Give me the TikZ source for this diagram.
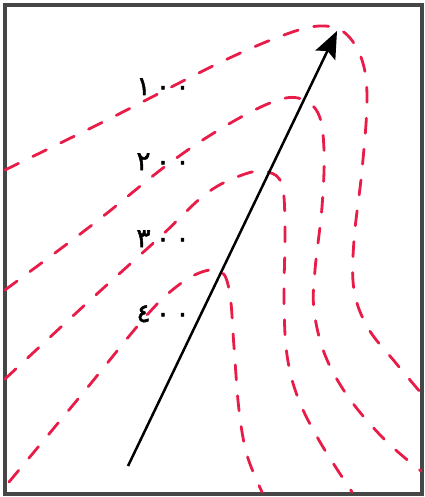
\documentclass[tikz,border=0pt]{standalone}
\usepackage{fontspec}
\usetikzlibrary{arrows.meta}
\newfontfamily\arabicfont[Script=Arabic,FakeBold=2]{DejaVu Sans}
\definecolor{contourred}{RGB}{232,28,72}
\definecolor{framegray}{RGB}{70,70,70}
\begin{document}
\begin{tikzpicture}[x=1pt,y=-1pt,
  contour/.style={draw=contourred, line width=2.8pt, dash pattern=on 15pt off 16pt, line cap=round},
  numlabel/.style={font=\arabicfont\fontsize{26}{30}\selectfont, anchor=base, inner sep=0pt, text=black},
  arrowline/.style={draw=black, line width=2.5pt, -{Stealth[length=27pt,width=22pt,inset=5pt]}}]
\useasboundingbox (0,0) rectangle (424,497);
\draw[framegray, line width=3.5pt] (5,5) rectangle (422,494);
% contour 100
\draw[contour] plot[smooth, tension=0.6] coordinates {(5,170) (107,120) (219,63) (284,35) (320,26) (345,33) (362,60) (367,100) (362,170) (354,240) (354,290) (368,328) (395,362) (421,393)};
% contour 200
\draw[contour] plot[smooth, tension=0.6] coordinates {(5,290) (92,225) (167,165) (222,128) (270,103) (298,98) (318,113) (324,150) (322,207) (315,270) (314,310) (325,355) (349,398) (385,440) (421,471)};
% contour 300
\draw[contour] plot[smooth, tension=0.6] coordinates {(5,379) (87,303) (160,237) (207,193) (245,174) (268,172) (282,185) (285,230) (284,300) (287,355) (298,398) (320,442) (352,492)};
% contour 400
\draw[contour] plot[smooth, tension=0.6] coordinates {(9,482) (83,393) (147,315) (180,284) (205,271) (222,272) (230,295) (234,347) (239,410) (247,455) (262,492)};
% labels
\node[numlabel] (l100) at (163,95) {١\hspace{5.5pt}٠\hspace{5.5pt}٠};
\node[numlabel] (l200) at (163,170) {٢\hspace{5.5pt}٠\hspace{5.5pt}٠};
\node[numlabel] (l300) at (163,247) {٣\hspace{5.5pt}٠\hspace{5.5pt}٠};
\node[numlabel] (l400) at (163,322) {٤\hspace{5.5pt}٠\hspace{5.5pt}٠};
% arrow
\coordinate (a0) at (128,466);
\coordinate (a1) at (337,31);
\draw[arrowline] (a0) -- (a1);
\end{tikzpicture}
\end{document}
